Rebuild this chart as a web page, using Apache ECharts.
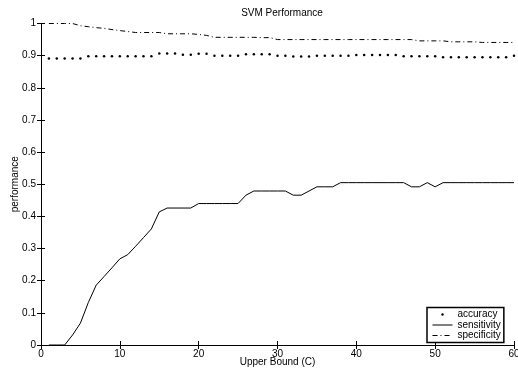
<!DOCTYPE html>
<html>
<head>
<meta charset="utf-8">
<script src="https://cdn.jsdelivr.net/npm/echarts@6/dist/echarts.min.js"></script>
<style>
  html, body { margin: 0; padding: 0; background: #fff; }
  #main { width: 518px; height: 371px; }
</style>
</head>
<body>
<div id="main"></div>
<script>
// upper bound C, 1..60
var cValues = []
for (var c = 1; c <= 60; c++) cValues.push(c)

var accuracy = [
  0.891, 0.891, 0.891, 0.891, 0.891, 0.898, 0.898, 0.898, 0.898, 0.898,
  0.898, 0.898, 0.898, 0.898, 0.907, 0.907, 0.907, 0.903, 0.903, 0.906,
  0.906, 0.900, 0.900, 0.900, 0.900, 0.904, 0.904, 0.904, 0.904, 0.900,
  0.900, 0.897, 0.897, 0.897, 0.900, 0.900, 0.900, 0.900, 0.900, 0.902,
  0.902, 0.902, 0.902, 0.902, 0.902, 0.898, 0.898, 0.898, 0.898, 0.898,
  0.895, 0.895, 0.895, 0.895, 0.895, 0.895, 0.895, 0.895, 0.895, 0.900
]

var sensitivity = [
  0, 0, 0, 0.031, 0.068, 0.132, 0.186, 0.213, 0.240, 0.268,
  0.281, 0.307, 0.334, 0.361, 0.414, 0.426, 0.426, 0.426, 0.426, 0.440,
  0.440, 0.440, 0.440, 0.440, 0.440, 0.466, 0.479, 0.479, 0.479, 0.479,
  0.479, 0.466, 0.466, 0.479, 0.492, 0.492, 0.492, 0.505, 0.505, 0.505,
  0.505, 0.505, 0.505, 0.505, 0.505, 0.505, 0.492, 0.492, 0.505, 0.492,
  0.505, 0.505, 0.505, 0.505, 0.505, 0.505, 0.505, 0.505, 0.505, 0.505
]

var specificity = [
  1.000, 1.000, 1.000, 1.000, 0.993, 0.990, 0.987, 0.985, 0.981, 0.978,
  0.975, 0.972, 0.972, 0.972, 0.972, 0.968, 0.968, 0.968, 0.968, 0.966,
  0.963, 0.957, 0.957, 0.957, 0.957, 0.957, 0.957, 0.956, 0.956, 0.950,
  0.950, 0.950, 0.950, 0.950, 0.950, 0.950, 0.950, 0.950, 0.950, 0.950,
  0.950, 0.950, 0.950, 0.950, 0.950, 0.950, 0.950, 0.946, 0.946, 0.946,
  0.946, 0.943, 0.943, 0.943, 0.943, 0.941, 0.941, 0.941, 0.941, 0.941
]

function pairs (ys) {
  return ys.map(function (y, i) { return [cValues[i], y] })
}

var font = 'Liberation Sans, Arial, Helvetica, sans-serif'
var chart = echarts.init(document.getElementById('main'))

var boxAxis = {
  axisLine: { show: true, lineStyle: { color: '#000', width: 1 } },
  axisTick: { show: true, inside: true, length: 4, lineStyle: { color: '#000' } },
  axisLabel: { show: false },
  splitLine: { show: false }
}

var option = {
  animation: false,
  backgroundColor: '#fff',
  title: {
    text: 'SVM Performance',
    left: 277,
    top: 3,
    textAlign: 'center',
    textStyle: { fontSize: 10, fontWeight: 'normal', color: '#000', fontFamily: font }
  },
  grid: { left: 41, right: 4, top: 23.5, bottom: 26, containLabel: false, outerBoundsMode: 'none' },
  legend: {
    orient: 'vertical',
    left: 427,
    top: 307.5,
    padding: [2, 3, 2, 5],
    itemWidth: 20,
    itemHeight: 3,
    itemGap: 0.5,
    borderColor: '#000',
    borderWidth: 1.5,
    backgroundColor: '#fff',
    lineStyle: { width: 1 },
    textStyle: { fontSize: 10, color: '#000', fontFamily: font, lineHeight: 10 },
    data: [
      { name: 'accuracy' },
      { name: 'sensitivity', itemStyle: { opacity: 0 } },
      { name: 'specificity', itemStyle: { opacity: 0 } }
    ]
  },
  xAxis: [{
    type: 'value',
    min: 0,
    max: 60,
    interval: 10,
    name: 'Upper Bound (C)',
    nameLocation: 'middle',
    nameGap: 12,
    nameMoveOverlap: false,
    nameTextStyle: { fontSize: 10, color: '#000', fontFamily: font },
    axisLine: { show: true, lineStyle: { color: '#000', width: 1 } },
    axisTick: { show: true, inside: true, length: 4, lineStyle: { color: '#000' } },
    axisLabel: { fontSize: 10, color: '#000', fontFamily: font, margin: 4 },
    splitLine: { show: false }
  }, Object.assign({ type: 'value', min: 0, max: 60, interval: 10, position: 'top' }, boxAxis)],
  yAxis: [{
    type: 'value',
    min: 0,
    max: 1,
    interval: 0.1,
    name: 'performance',
    nameLocation: 'middle',
    nameGap: 21,
    nameMoveOverlap: false,
    nameTextStyle: { fontSize: 10, color: '#000', fontFamily: font },
    axisLine: { show: true, lineStyle: { color: '#000', width: 1 } },
    axisTick: { show: true, inside: true, length: 4, lineStyle: { color: '#000' } },
    axisLabel: { fontSize: 10, color: '#000', fontFamily: font, margin: 5 },
    splitLine: { show: false }
  }, Object.assign({ type: 'value', min: 0, max: 1, interval: 0.1, position: 'right' }, boxAxis)],
  series: [{
    name: 'accuracy',
    type: 'line',
    data: pairs(accuracy),
    symbol: 'circle',
    symbolSize: 2.5,
    showSymbol: true,
    itemStyle: { color: '#000' },
    lineStyle: { color: '#000', opacity: 0 }
  }, {
    name: 'sensitivity',
    type: 'line',
    data: pairs(sensitivity),
    symbol: 'none',
    itemStyle: { color: '#000' },
    lineStyle: { color: '#000', width: 1 }
  }, {
    name: 'specificity',
    type: 'line',
    data: pairs(specificity),
    symbol: 'none',
    itemStyle: { color: '#000' },
    lineStyle: { color: '#000', width: 1, type: [5, 3, 1, 3] }
  }]
}

chart.setOption(option)
</script>
</body>
</html>
